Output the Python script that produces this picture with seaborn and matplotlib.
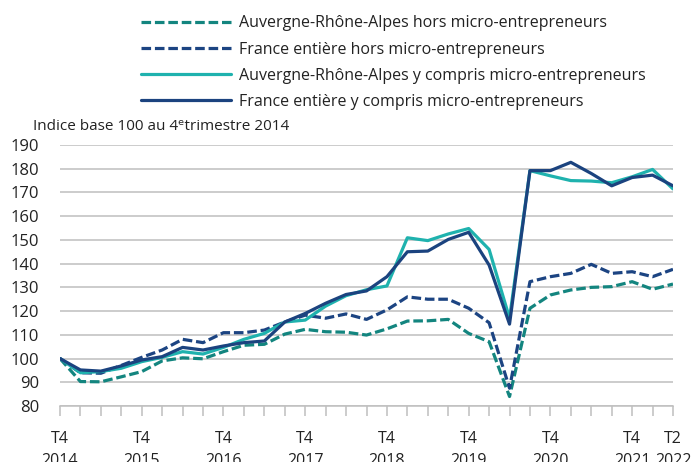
import numpy as np
import pandas as pd
import matplotlib
matplotlib.use("Agg")
import matplotlib.pyplot as plt
import seaborn as sns

# -------------------------------
# DATA (indice base 100 au T4 2014, trimestriel T4 2014 -> T2 2022)
# -------------------------------
tick_pos = [0, 4, 8, 12, 16, 20, 24, 28, 30]
tick_labels = ["T4\n2014", "T4\n2015", "T4\n2016", "T4\n2017", "T4\n2018",
               "T4\n2019", "T4\n2020", "T4\n2021", "T2\n2022"]

ara_hors = [100, 90.3, 90.2, 92.3, 94.5, 99.0, 100.3, 99.9, 102.9, 105.6, 106.0,
            110.3, 112.3, 111.3, 111.1, 109.9, 112.5, 115.8, 115.9, 116.5, 110.6,
            107.1, 84.0, 121.2, 126.8, 128.9, 130.0, 130.3, 132.4, 129.2, 131.4]
fr_hors = [100, 94.0, 93.8, 97.1, 100.5, 103.6, 108.1, 106.7, 110.9, 110.9, 112.0,
           115.4, 118.3, 117.0, 118.8, 116.5, 120.5, 126.0, 125.0, 125.0, 121.2,
           115.1, 87.5, 132.4, 134.5, 135.9, 139.7, 135.9, 136.6, 134.5, 137.6]
ara_yc = [100, 94.0, 94.5, 95.9, 98.7, 100.5, 102.9, 101.9, 104.7, 108.1, 110.6,
          115.4, 116.2, 122.1, 126.5, 129.0, 130.6, 150.9, 149.7, 152.5, 154.8,
          146.0, 117.0, 179.2, 177.0, 175.0, 174.8, 174.1, 176.6, 179.7, 171.5]
fr_yc = [100, 95.2, 94.7, 96.9, 99.4, 100.8, 104.7, 103.6, 105.3, 106.7, 107.4,
         115.4, 119.0, 123.3, 127.0, 128.5, 134.5, 145.0, 145.3, 150.2, 153.2,
         139.4, 114.5, 179.2, 179.2, 182.7, 178.0, 172.8, 176.3, 177.3, 172.8]

labels = ["Auvergne-Rhône-Alpes hors micro-entrepreneurs",
          "France entière hors micro-entrepreneurs",
          "Auvergne-Rhône-Alpes y compris micro-entrepreneurs",
          "France entière y compris micro-entrepreneurs"]

# -------------------------------
# STYLE
# -------------------------------
sns.set_theme(style="white")
plt.rcParams["font.family"] = ["Open Sans", "DejaVu Sans"]
fs = 11.5
grey = "#bfbfbf"
txt = "#222222"

fig = plt.figure(figsize=(6.93, 4.62), dpi=100)
ax = fig.add_axes([60 / 693, 1 - 406 / 462, 613 / 693, 261 / 462])

x = np.arange(len(fr_yc))
dash = (0, (3.0, 1.2))
series = [
    (ara_hors, "#13857f", dash),
    (fr_hors, "#1c4482", dash),
    (ara_yc, "#1fb2ae", "-"),
    (fr_yc, "#1b437f", "-"),
]
for (vals, col, ls), lab in zip(series, labels):
    sns.lineplot(x=x, y=vals, ax=ax, color=col, linewidth=2.3, label=lab)
    ax.lines[-1].set_linestyle(ls)

ax.set_xlim(0, 30)
ax.set_ylim(80, 190)
ax.set_yticks(np.arange(80, 191, 10))
ax.yaxis.grid(True, color=grey, linewidth=1.1)
ax.xaxis.grid(False)
for s in ["left", "top", "right"]:
    ax.spines[s].set_visible(False)
ax.spines["bottom"].set_color(grey)
ax.spines["bottom"].set_linewidth(1.1)

ax.set_xticks(np.arange(0, 31), minor=True)
ax.set_xticks(tick_pos)
ax.set_xticklabels(tick_labels, fontsize=fs, linespacing=1.5)
ax.tick_params(axis="x", which="both", bottom=True, length=7, width=1.1,
               color=grey, direction="out", pad=11, labelcolor=txt)
ax.tick_params(axis="y", left=False, labelsize=12, pad=9, labelcolor=txt)

fig.text(33 / 693, 1 - 126 / 462, "Indice base 100 au 4ᵉtrimestre 2014",
         fontsize=fs - 0.5, color=txt, va="center", ha="left")

handles, labs = ax.get_legend_handles_labels()
for h, (_, _, ls) in zip(handles, series):
    h.set_linestyle(ls)
leg = ax.legend(handles, labs, loc="upper left", bbox_to_anchor=(135 / 693, 1 - 9 / 462),
                bbox_transform=fig.transFigure, frameon=False, fontsize=fs,
                handlelength=5.6, handletextpad=0.5, labelspacing=0.64,
                borderaxespad=0)
for t in leg.get_texts():
    t.set_color(txt)

fig.savefig("out.png", dpi=100)
